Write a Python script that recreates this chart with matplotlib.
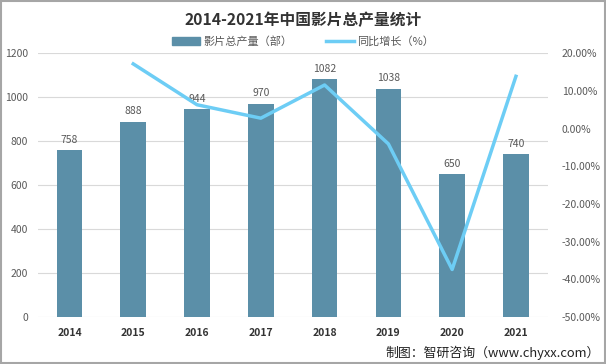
import matplotlib
matplotlib.use('Agg')
import matplotlib.pyplot as plt
from matplotlib.patches import Rectangle
from matplotlib.lines import Line2D

plt.rcParams['font.family'] = ['Noto Sans CJK SC', 'DejaVu Sans']

years = ['2014', '2015', '2016', '2017', '2018', '2019', '2020', '2021']
output = [758, 888, 944, 970, 1082, 1038, 650, 740]
growth_years = ['2015', '2016', '2017', '2018', '2019', '2020', '2021']
growth = [17.15, 6.31, 2.75, 11.55, -4.07, -37.38, 13.85]

bar_color = '#5B8FA8'
line_color = '#6DCDF5'
label_color = '#595959'

fig = plt.figure(figsize=(6.06, 3.64), dpi=100)
ax = fig.add_axes([0.062, 0.129, 0.842, 0.725])
x = list(range(len(years)))
ax.bar(x, output, width=0.4, color=bar_color, zorder=2)
for xi, v in zip(x, output):
    ax.text(xi, v + 25, str(v), ha='center', va='bottom', fontsize=7.5, color=label_color)

ax.set_xlim(-0.5, len(years) - 0.5)
ax.set_ylim(0, 1200)
ax.set_yticks(range(0, 1201, 200))
ax.set_xticks(x)
ax.set_xticklabels(years, fontsize=7.5, fontweight='bold', color='#333333')
ax.tick_params(axis='y', labelsize=7.5, labelcolor=label_color, length=0, pad=7)
ax.tick_params(axis='x', length=0, pad=8)
ax.grid(axis='y', color='#D9D9D9', linewidth=0.8, zorder=0)
for s in ax.spines.values():
    s.set_visible(False)

ax2 = ax.twinx()
gx = [years.index(y) for y in growth_years]
ax2.plot(gx, growth, color=line_color, linewidth=2.5, zorder=3)
ax2.set_ylim(-50, 20)
ax2.set_yticks(range(-50, 21, 10))
ax2.set_yticklabels(['%.2f%%' % t for t in range(-50, 21, 10)])
ax2.tick_params(axis='y', labelsize=7.5, labelcolor=label_color, length=0, pad=10)
for s in ax2.spines.values():
    s.set_visible(False)

fig.text(0.5, 0.945, '2014-2021年中国影片总产量统计', ha='center', va='center',
         fontsize=11.3, fontweight='bold', color='#333333')

handles = [Rectangle((0, 0), 1, 1, color=bar_color),
           Line2D([0], [0], color=line_color, linewidth=2.5)]
fig.legend(handles, ['影片总产量（部）', '同比增长（%）'], loc='center',
           bbox_to_anchor=(0.5, 0.885), ncol=2, frameon=False, fontsize=8,
           labelcolor=label_color, handlelength=2.5, columnspacing=3, handletextpad=0.3)

fig.text(0.99, 0.032, '制图：智研咨询（www.chyxx.com）', ha='right', va='center',
         fontsize=9.3, color='#222222')

fig.add_artist(Rectangle((0.001, 0.002), 0.997, 0.995, transform=fig.transFigure,
                         fill=False, edgecolor='#A6A6A6', linewidth=1.5))

fig.savefig('out.png', dpi=100)
